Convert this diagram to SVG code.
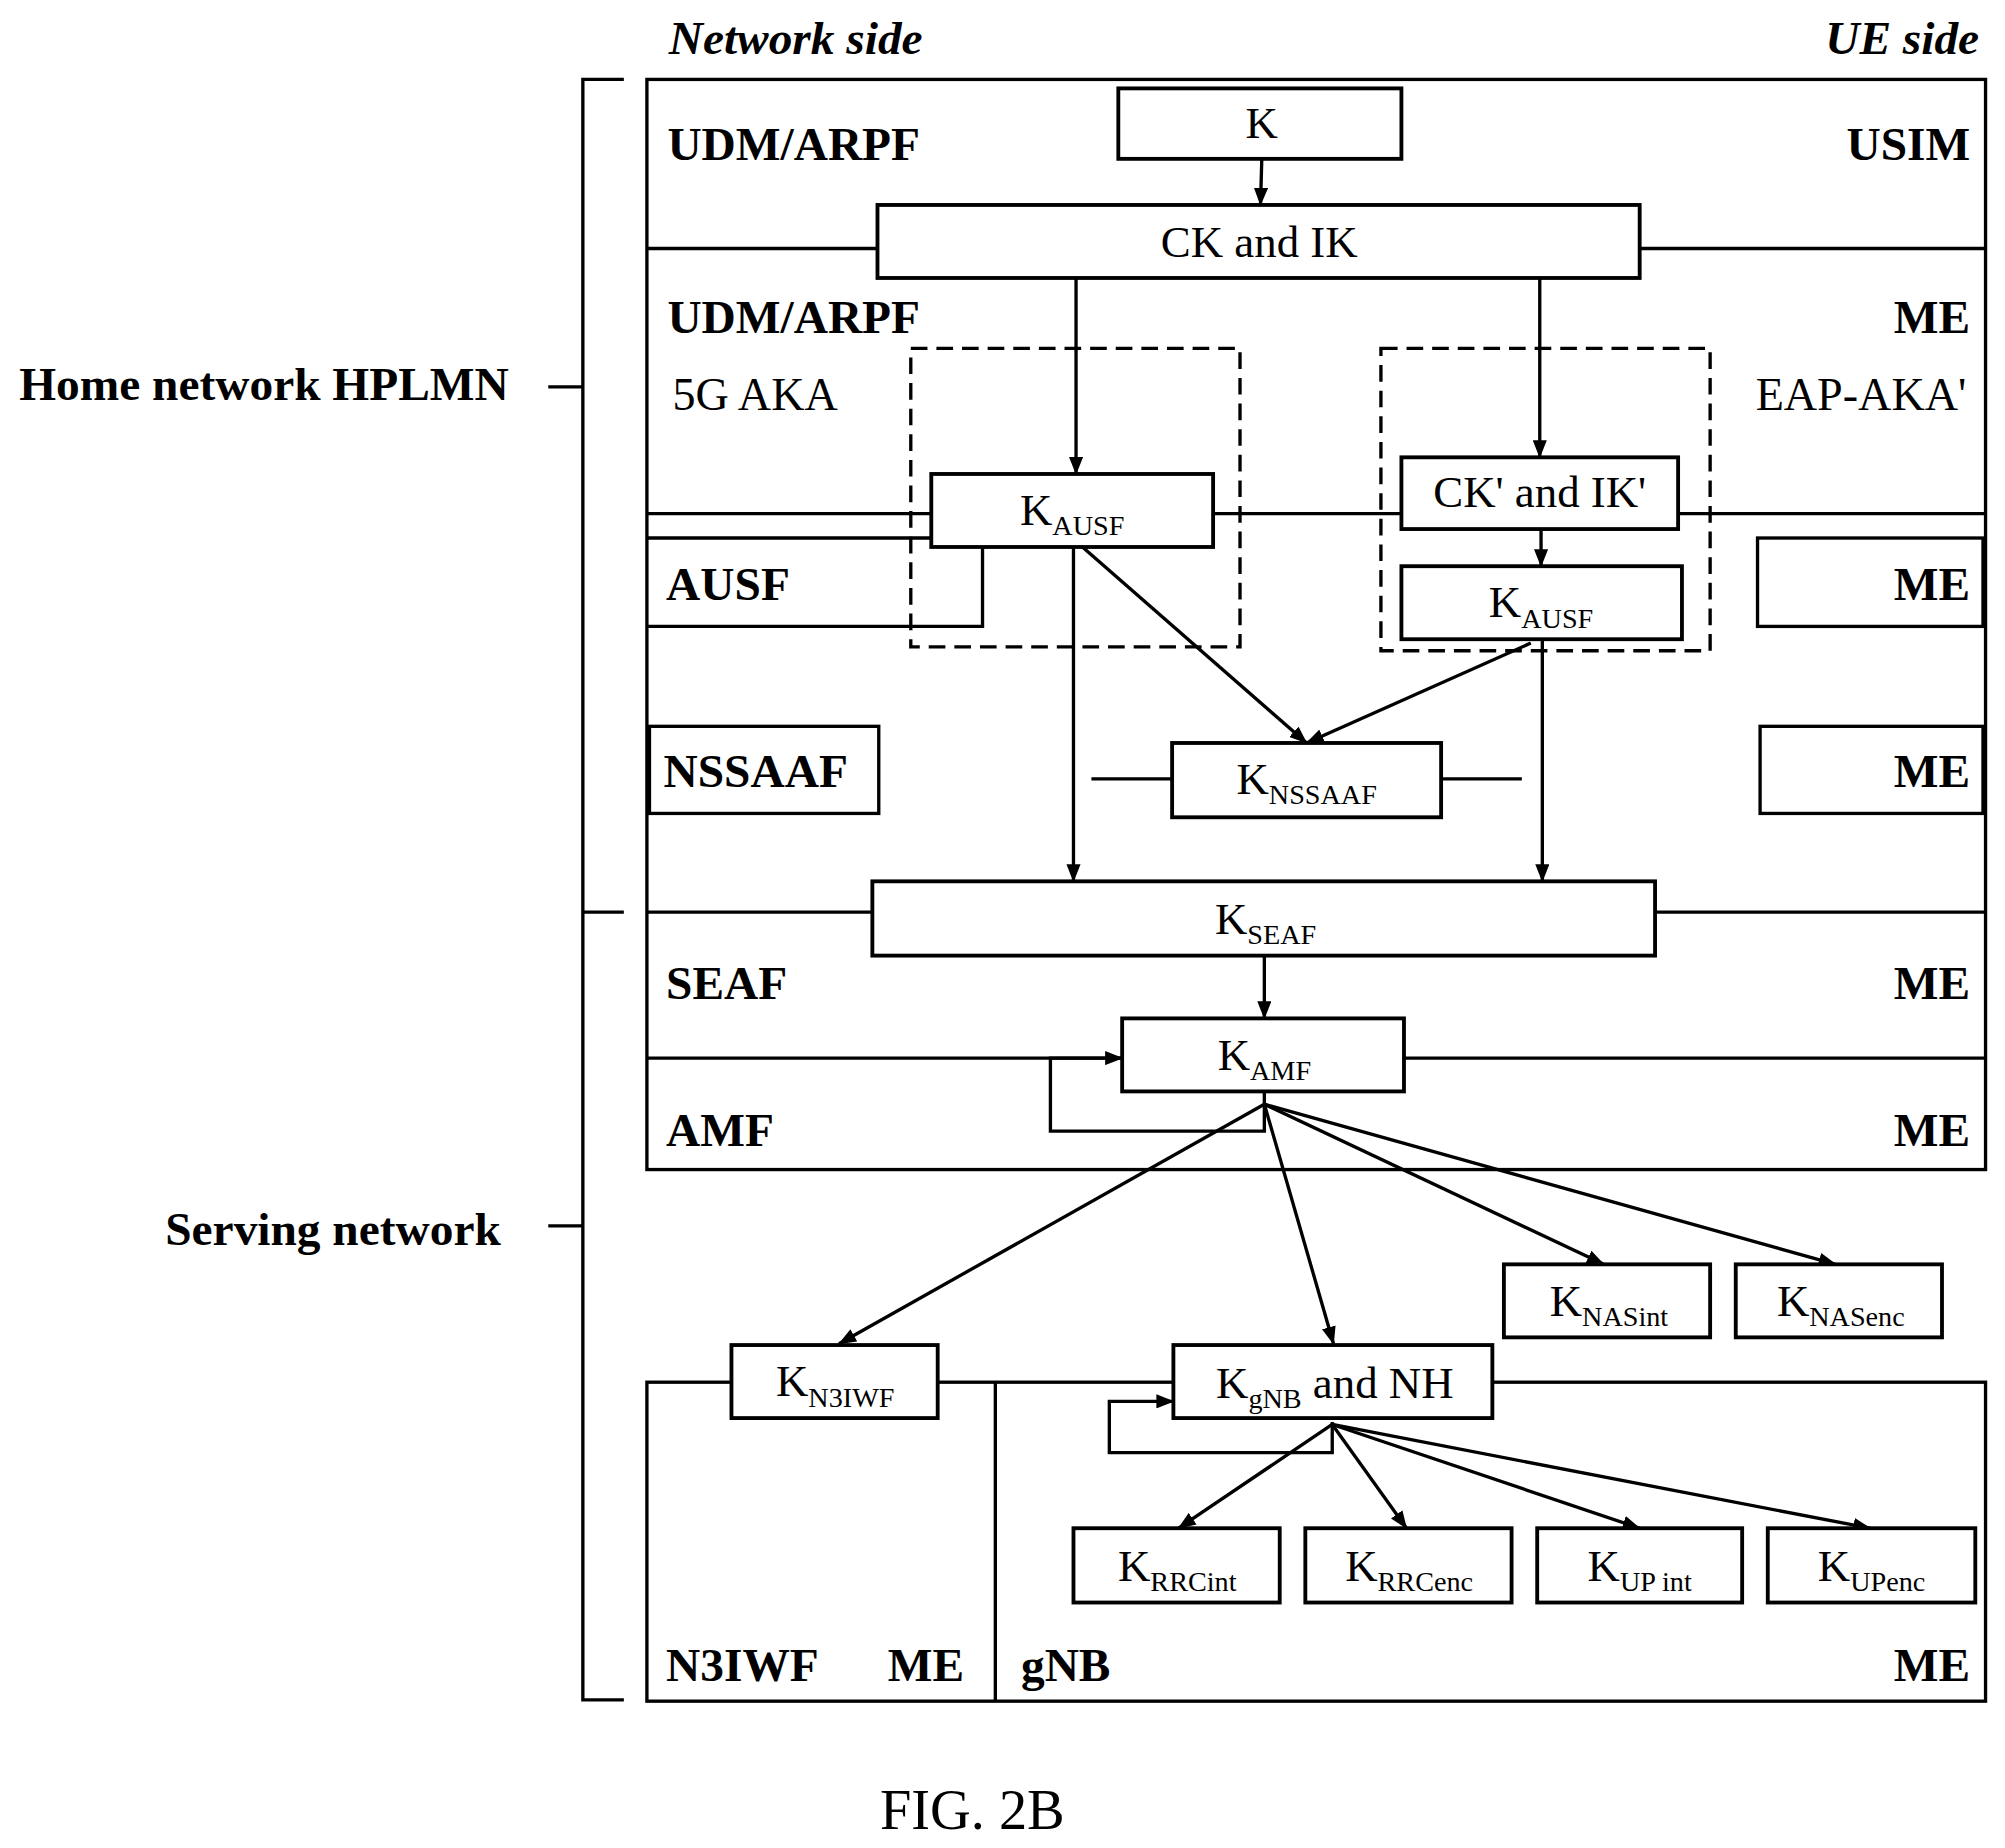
<svg xmlns="http://www.w3.org/2000/svg" width="2005" height="1848" viewBox="0 0 2005 1848">
<style>
.b{fill:#fff;stroke:#000;stroke-width:3}
.l{fill:none;stroke:#000;stroke-width:2.6}
.d{fill:none;stroke:#000;stroke-width:2.6;stroke-dasharray:13,7}
.a{fill:none;stroke:#000;stroke-width:2.6;marker-end:url(#ah)}
text{font-family:"Liberation Serif","Times New Roman",serif;fill:#000}
.lb{font-size:37px;font-weight:bold}
.r{text-anchor:end}
.t{font-size:35px;text-anchor:middle}
.s{font-size:22px}
</style>
<defs><marker id="ah" viewBox="0 0 10 10" refX="9.5" refY="5" markerWidth="14" markerHeight="11" markerUnits="userSpaceOnUse" orient="auto" preserveAspectRatio="none"><path d="M0,0L10,5L0,10z" fill="#000"/></marker></defs>
<rect width="2005" height="1848" fill="#fff"/>
<g transform="scale(1.281)">
<g id="frame">
<rect x="505" y="62" width="1045" height="851" class="l" stroke-width="3"/>
<rect x="505" y="1079" width="1045" height="249" class="l" stroke-width="3"/>
<line x1="777" y1="1079" x2="777" y2="1328" class="l"/>
<path d="M505,194H685M1280,194H1550M505,401H727M947,401H1094M1310,401H1550M505,712H681M1292,712H1550M505,826H876M1096,826H1550M852,608H915M1125,608H1188" class="l"/>
<path d="M505,420H727M767,427V489H505" class="l"/>
<rect x="1372" y="420" width="176" height="69" class="l"/>
<rect x="507" y="567" width="179" height="68" class="l"/>
<rect x="1374" y="567" width="174" height="68" class="l"/>
<rect x="711" y="272" width="257" height="233" class="d"/>
<rect x="1078" y="272" width="257" height="236" class="d"/>
<path d="M487,62H455V1327H487M455,712H487M428,302H455M428,957H455" class="l"/>
</g>
<g id="labels">
<text x="522" y="42" class="lb" font-style="italic">Network side</text>
<text x="1545" y="42" class="lb r" font-style="italic">UE side</text>
<text x="15" y="312" class="lb">Home network HPLMN</text>
<text x="129" y="972" class="lb">Serving network</text>
<text x="521" y="125" class="lb">UDM/ARPF</text><text x="1538" y="125" class="lb r">USIM</text>
<text x="521" y="260" class="lb">UDM/ARPF</text><text x="1538" y="260" class="lb r">ME</text>
<text x="525" y="320" font-size="36px">5G AKA</text><text x="1535" y="320" font-size="36px" class="r">EAP-AKA'</text>
<text x="520" y="468" class="lb">AUSF</text><text x="1538" y="468" class="lb r">ME</text>
<text x="518" y="614" class="lb">NSSAAF</text><text x="1538" y="614" class="lb r">ME</text>
<text x="520" y="780" class="lb">SEAF</text><text x="1538" y="780" class="lb r">ME</text>
<text x="520" y="895" class="lb">AMF</text><text x="1538" y="895" class="lb r">ME</text>
<text x="520" y="1312" class="lb">N3IWF</text><text x="693" y="1312" class="lb">ME</text>
<text x="797" y="1312" class="lb">gNB</text><text x="1538" y="1312" class="lb r">ME</text>
<text x="759" y="1428" font-size="44px" text-anchor="middle">FIG. 2B</text>
</g>
<g id="connectors">
<line x1="985" y1="124" x2="984" y2="160" class="a"/>
<line x1="840" y1="217" x2="840" y2="370" class="a"/>
<line x1="1202" y1="217" x2="1202" y2="357" class="a"/>
<line x1="1203" y1="413" x2="1203" y2="442" class="a"/>
<line x1="838" y1="427" x2="838" y2="688" class="a"/>
<line x1="845" y1="427" x2="1020" y2="580" class="a"/>
<line x1="1195" y1="502" x2="1020" y2="580" class="a"/>
<line x1="1204" y1="499" x2="1204" y2="688" class="a"/>
<line x1="987" y1="746" x2="987" y2="795" class="a"/>
<path d="M987,852V883H820V826H876" class="a"/>
<line x1="987" y1="862" x2="655" y2="1049" class="a"/>
<line x1="987" y1="862" x2="1041" y2="1049" class="a"/>
<line x1="987" y1="862" x2="1252" y2="987" class="a"/>
<line x1="987" y1="862" x2="1433" y2="987" class="a"/>
<path d="M1040,1110V1134H866V1094H916" class="a"/>
<line x1="1040" y1="1112" x2="920" y2="1193" class="a"/>
<line x1="1040" y1="1112" x2="1098" y2="1193" class="a"/>
<line x1="1040" y1="1112" x2="1280" y2="1193" class="a"/>
<line x1="1040" y1="1112" x2="1460" y2="1193" class="a"/>
</g>
<g id="K"><rect x="873" y="69" width="221" height="55" class="b"/><text x="985" y="108" class="t">K</text></g>
<g id="CKIK"><rect x="685" y="160" width="595" height="57" class="b"/><text x="983" y="201" class="t">CK and IK</text></g>
<g id="KAUSF1"><rect x="727" y="370" width="220" height="57" class="b"/><text x="837" y="410" class="t">K<tspan class="s" dy="8">AUSF</tspan></text></g>
<g id="CKIKp"><rect x="1094" y="357" width="216" height="56" class="b"/><text x="1202" y="396" class="t">CK' and IK'</text></g>
<g id="KAUSF2"><rect x="1094" y="442" width="219" height="57" class="b"/><text x="1203" y="482" class="t">K<tspan class="s" dy="8">AUSF</tspan></text></g>
<g id="KNSSAAF"><rect x="915" y="580" width="210" height="58" class="b"/><text x="1020" y="620" class="t">K<tspan class="s" dy="8">NSSAAF</tspan></text></g>
<g id="KSEAF"><rect x="681" y="688" width="611" height="58" class="b"/><text x="988" y="729" class="t">K<tspan class="s" dy="8">SEAF</tspan></text></g>
<g id="KAMF"><rect x="876" y="795" width="220" height="57" class="b"/><text x="987" y="835" class="t">K<tspan class="s" dy="8">AMF</tspan></text></g>
<g id="KNASint"><rect x="1174" y="987" width="161" height="57" class="b"/><text x="1256" y="1027" class="t">K<tspan class="s" dy="8">NASint</tspan></text></g>
<g id="KNASenc"><rect x="1355" y="987" width="161" height="57" class="b"/><text x="1437" y="1027" class="t">K<tspan class="s" dy="8">NASenc</tspan></text></g>
<g id="KN3IWF"><rect x="571" y="1050" width="161" height="57" class="b"/><text x="652" y="1090" class="t">K<tspan class="s" dy="8">N3IWF</tspan></text></g>
<g id="KgNB"><rect x="916" y="1050" width="249" height="57" class="b"/><text x="1042" y="1091" class="t">K<tspan class="s" dy="8">gNB</tspan><tspan dy="-8"> and NH</tspan></text></g>
<g id="KRRCint"><rect x="838" y="1193" width="161" height="58" class="b"/><text x="919" y="1234" class="t">K<tspan class="s" dy="8">RRCint</tspan></text></g>
<g id="KRRCenc"><rect x="1019" y="1193" width="161" height="58" class="b"/><text x="1100" y="1234" class="t">K<tspan class="s" dy="8">RRCenc</tspan></text></g>
<g id="KUPint"><rect x="1200" y="1193" width="160" height="58" class="b"/><text x="1280" y="1234" class="t">K<tspan class="s" dy="8">UP int</tspan></text></g>
<g id="KUPenc"><rect x="1380" y="1193" width="162" height="58" class="b"/><text x="1461" y="1234" class="t">K<tspan class="s" dy="8">UPenc</tspan></text></g>
</g>
</svg>
